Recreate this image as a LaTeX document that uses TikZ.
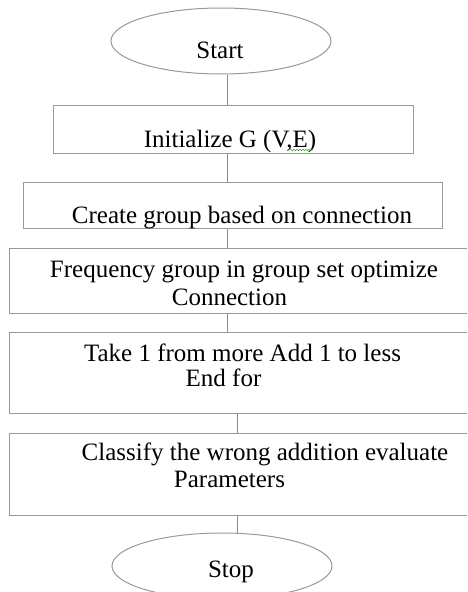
\documentclass[tikz,border=0pt]{standalone}
\usepackage{fontspec}
\setmainfont{Liberation Serif}
\usetikzlibrary{calc,positioning,shapes.geometric,decorations.pathmorphing}

\begin{document}
\begin{tikzpicture}[x=1pt,y=-1pt,
    box/.style={rectangle,draw=black!40,line width=1pt,inner sep=0pt},
    oval/.style={ellipse,draw=black!40,line width=1pt,inner sep=0pt},
    txt/.style={anchor=base,inner sep=0pt,font=\fontsize{25}{30}\selectfont},
    link/.style={draw=black!45,line width=1pt}]

  \useasboundingbox (0,0) rectangle (467,592);
  \clip (0,0) rectangle (467,592);

  \path (221,41) node(start) [oval,minimum width=220pt,minimum height=66pt] {}
  (233,129) node(init) [box,minimum width=360pt,minimum height=48pt] {}
  (232.5,205) node(group) [box,minimum width=419pt,minimum height=46pt] {}
  (244.5,280.5) node(freq) [box,minimum width=471pt,minimum height=65pt] {}
  (244.5,372.5) node(take) [box,minimum width=471pt,minimum height=81pt] {}
  (244.5,474) node(classify) [box,minimum width=471pt,minimum height=82pt] {}
  (222,566) node(stop) [oval,minimum width=220pt,minimum height=66pt] {};

  \path (220,58) node(startT) [txt] {Start}
  (230,147) node(initT) [txt] {Initialize G (V,E)}
  (242,223) node(groupT) [txt] {Create group based on connection}
  (244,277) node(freqT) [txt] {Frequency group in group set optimize}
  (229.5,305) node(freqT2) [txt] {Connection}
  (242.5,361.5) node(takeT) [txt] {Take 1 from more Add 1 to less}
  (223.5,386.5) node(takeT2) [txt] {End for}
  (265,460) node(classifyT) [txt] {Classify the wrong addition evaluate}
  (229.5,487) node(classifyT2) [txt] {Parameters}
  (231,577) node(stopT) [txt] {Stop};

  % spell check mark under ,E
  \draw[green!60!black,decorate,decoration={snake,amplitude=0.8pt,segment length=3pt}]
    (290,150) -- (313,150);

  \coordinate (colA) at (227,0);
  \coordinate (colB) at (237,0);
  \path[link] (start.south -| colA) -- (init.north -| colA)
  (init.south -| colA) -- (group.north -| colA)
  (group.south -| colA) -- (freq.north -| colA)
  (freq.south -| colA) -- (take.north -| colA)
  (take.south -| colB) -- (classify.north -| colB)
  (classify.south -| colB) -- (stop.north -| colB);

\end{tikzpicture}
\end{document}
